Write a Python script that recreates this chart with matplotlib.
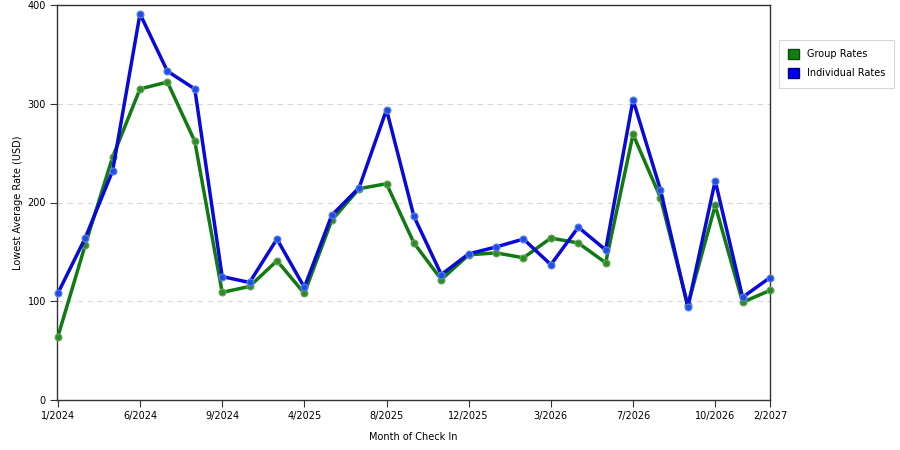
import matplotlib
matplotlib.use("Agg")
import matplotlib.pyplot as plt
from matplotlib.patches import Patch

# categories are evenly spaced, only some months are labelled
tick_idx = [0, 3, 6, 9, 12, 15, 18, 21, 24, 26]
tick_labels = ["1/2024", "6/2024", "9/2024", "4/2025", "8/2025", "12/2025",
               "3/2026", "7/2026", "10/2026", "2/2027"]

group_rates = [64, 157, 246, 315, 322, 262, 109, 115, 141, 108, 182, 214, 219,
               159, 122, 147, 149, 144, 164, 159, 139, 269, 205, 96, 197, 99, 111]
individual_rates = [108, 164, 232, 391, 333, 315, 125, 119, 163, 114, 187, 215,
                    294, 186, 127, 148, 155, 163, 137, 175, 152, 304, 213, 94,
                    222, 104, 124]

green = "#127a12"
blue = "#0a0ad8"

fig = plt.figure(figsize=(9, 4.5), dpi=100)
ax = fig.add_axes([57 / 900, 50 / 450, 713 / 900, 395 / 450])

x = list(range(len(group_rates)))
ax.plot(x, group_rates, color=green, lw=2.5, marker="o", ms=5,
        mfc="#2f8a2a", mec="#6aa85a", mew=0.8, zorder=3, clip_on=False)
ax.plot(x, individual_rates, color=blue, lw=2.5, marker="o", ms=5,
        mfc="#1f4fe0", mec="#6080f0", mew=0.8, zorder=4, clip_on=False)

ax.set_xlim(-0.03, 26)
ax.set_ylim(0, 400)
ax.set_yticks([0, 100, 200, 300, 400])
ax.set_xticks(tick_idx)
ax.set_xticklabels(tick_labels)
for y in [100, 200, 300]:
    ax.axhline(y, color="#d8d8d8", lw=0.8, ls=(0, (5, 4)), zorder=1)

ax.tick_params(axis="both", direction="out", length=5, width=0.8,
               labelsize=7, colors="#333333", labelcolor="black", pad=3)
for s in ax.spines.values():
    s.set_color("#333333")
    s.set_linewidth(1)

ax.set_ylabel("Lowest Average Rate (USD)", fontsize=7)
ax.yaxis.set_label_coords(-34 / 713, 0.5)
ax.set_xlabel("Month of Check In", fontsize=7, labelpad=8)

handles = [Patch(facecolor="#118011", edgecolor="#0b4a0b", label="Group Rates"),
           Patch(facecolor="#0000ee", edgecolor="#000077", label="Individual Rates")]
leg = fig.legend(handles=handles, loc="upper left",
                 bbox_to_anchor=(779 / 900, 1 - 40 / 450), fontsize=7,
                 fancybox=False, handlelength=1.1, handleheight=1.1,
                 borderpad=0.95, labelspacing=0.95, handletextpad=0.8,
                 borderaxespad=0)
leg.get_frame().set_edgecolor("#cccccc")
leg.get_frame().set_linewidth(0.8)

fig.savefig("out.png", dpi=100)
